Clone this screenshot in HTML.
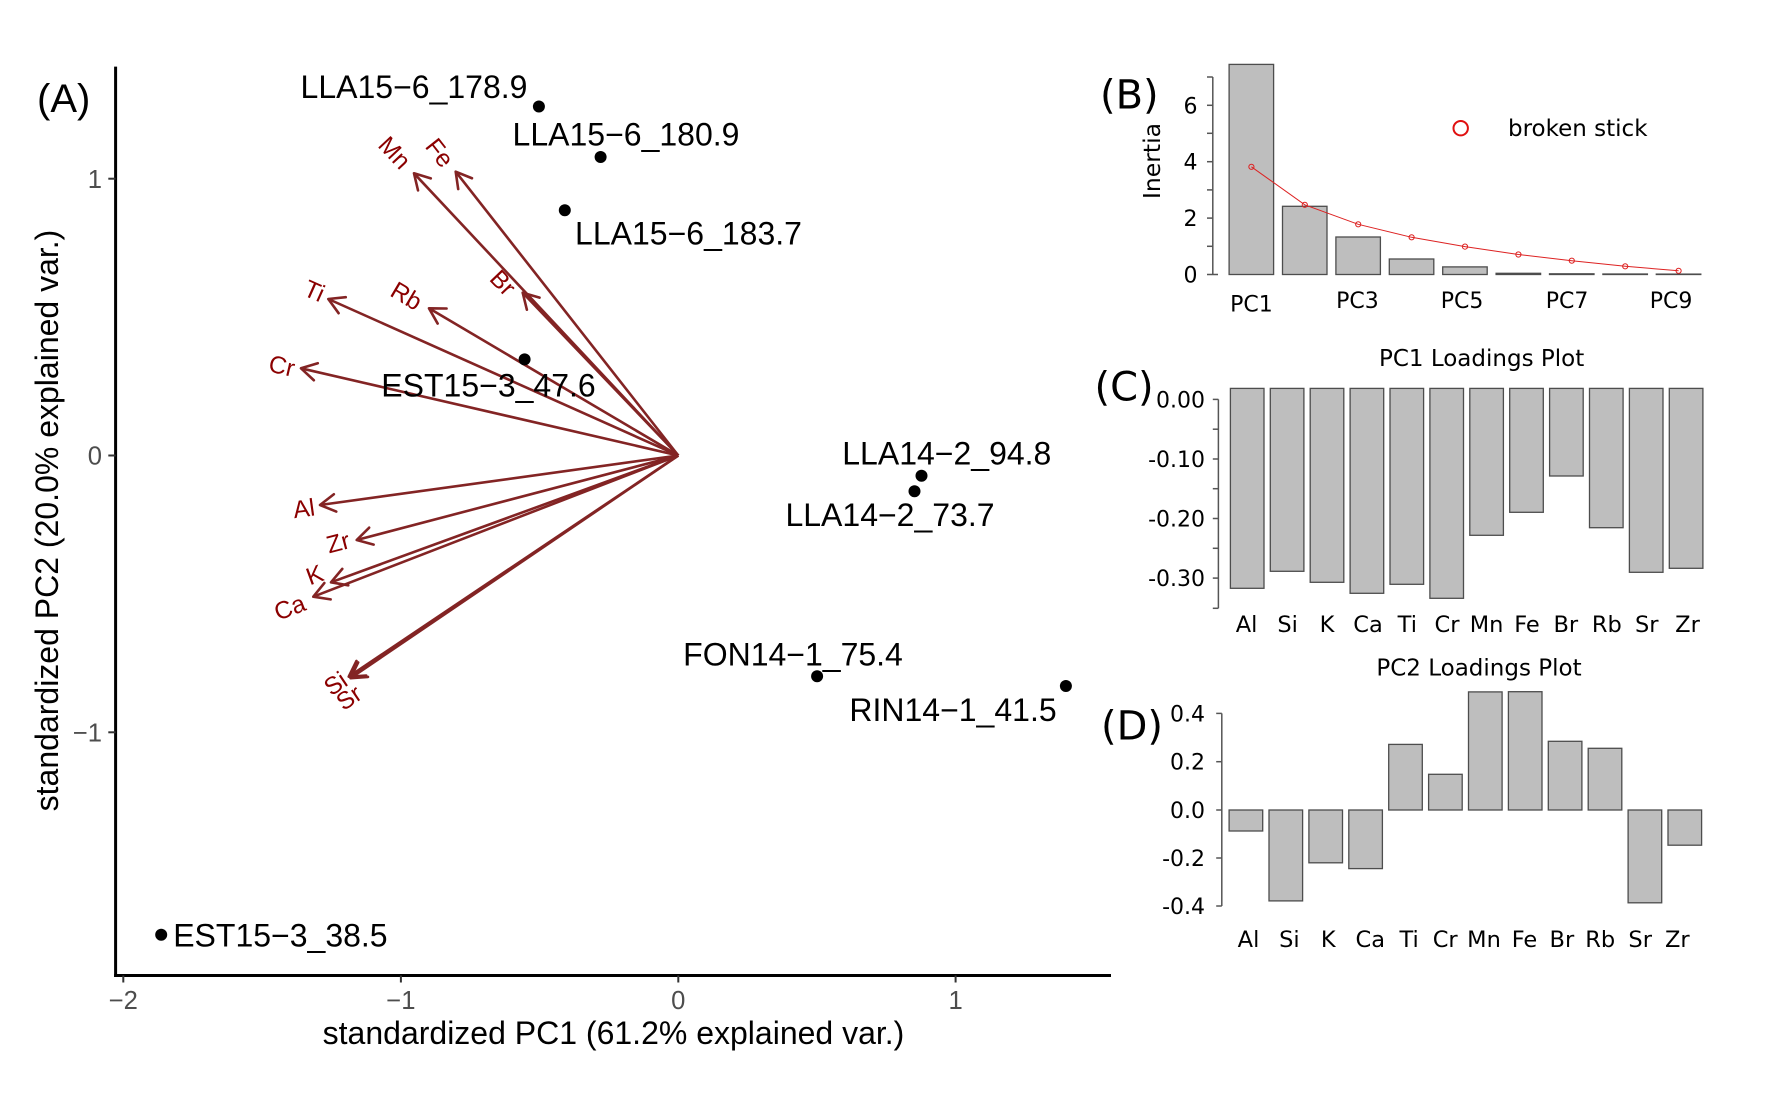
<!DOCTYPE html>
<html><head><meta charset="utf-8"><style>html,body{margin:0;padding:0;background:#fff}svg{display:block}</style></head>
<body>
<svg width="1775" height="1099" viewBox="0 0 1775 1099" xmlns="http://www.w3.org/2000/svg">
<rect width="1775" height="1099" fill="#ffffff"/>
<defs>
<marker id="ah" markerUnits="userSpaceOnUse" markerWidth="40" markerHeight="40" viewBox="-20 -20 40 40" refX="0" refY="0" orient="auto" overflow="visible">
<path d="M-15.2,-8.75 L0,0 L-15.2,8.75" fill="none" stroke="#832424" stroke-width="2.6" stroke-linecap="round" stroke-linejoin="round"/>
</marker>
</defs>

<!-- ================= PANEL A ================= -->
<g font-family="'Liberation Sans', Arial, sans-serif">
<text x="37" y="112" font-size="40" fill="#000">(A)</text>

<!-- axes -->
<line x1="115.6" y1="66.6" x2="115.6" y2="977" stroke="#000" stroke-width="3"/>
<line x1="114.1" y1="975.5" x2="1111" y2="975.5" stroke="#000" stroke-width="3"/>
<g stroke="#333" stroke-width="2">
<line x1="108.3" y1="178.7" x2="115.6" y2="178.7"/>
<line x1="108.3" y1="455.5" x2="115.6" y2="455.5"/>
<line x1="108.3" y1="732.3" x2="115.6" y2="732.3"/>
<line x1="123.3" y1="975.5" x2="123.3" y2="982.5"/>
<line x1="400.9" y1="975.5" x2="400.9" y2="982.5"/>
<line x1="678.3" y1="975.5" x2="678.3" y2="982.5"/>
<line x1="955.6" y1="975.5" x2="955.6" y2="982.5"/>
</g>
<g font-size="25.6" fill="#4d4d4d">
<text x="102" y="187.9" text-anchor="end">1</text>
<text x="102" y="464.7" text-anchor="end">0</text>
<text x="102" y="741.5" text-anchor="end">−1</text>
<text x="123.3" y="1009" text-anchor="middle">−2</text>
<text x="400.9" y="1009" text-anchor="middle">−1</text>
<text x="678.3" y="1009" text-anchor="middle">0</text>
<text x="955.6" y="1009" text-anchor="middle">1</text>
</g>
<text x="613.5" y="1044" font-size="32" text-anchor="middle" fill="#000">standardized PC1 (61.2% explained var.)</text>
<text transform="translate(58,520.5) rotate(-90)" font-size="32" text-anchor="middle" fill="#000">standardized PC2 (20.0% explained var.)</text>

<!-- arrows -->
<g stroke="#832424" stroke-width="2.6" fill="none" marker-end="url(#ah)">
<line x1="678.3" y1="455.5" x2="414" y2="173.3"/>
<line x1="678.3" y1="455.5" x2="455.7" y2="171.7"/>
<line x1="678.3" y1="455.5" x2="522.7" y2="292.7"/>
<line x1="678.3" y1="455.5" x2="429" y2="308.3"/>
<line x1="678.3" y1="455.5" x2="328.3" y2="299"/>
<line x1="678.3" y1="455.5" x2="301" y2="368.3"/>
<line x1="678.3" y1="455.5" x2="320" y2="505"/>
<line x1="678.3" y1="455.5" x2="356.7" y2="540"/>
<line x1="678.3" y1="455.5" x2="331" y2="582.3"/>
<line x1="678.3" y1="455.5" x2="313.3" y2="596.7"/>
<line x1="678.3" y1="455.5" x2="348.7" y2="676.7"/>
<line x1="678.3" y1="455.5" x2="350.5" y2="678.2"/>
</g>

<!-- variable labels -->
<g font-size="24.5" fill="#8b0000" text-anchor="middle" dominant-baseline="central">
<text transform="translate(394,153.3) rotate(46.9)">Mn</text>
<text transform="translate(439,153.3) rotate(51.9)">Fe</text>
<text transform="translate(502.3,283.3) rotate(46.3)">Br</text>
<text transform="translate(406,296.7) rotate(30.6)">Rb</text>
<text transform="translate(314,291.7) rotate(24.1)">Ti</text>
<text transform="translate(281.7,366.7) rotate(13)">Cr</text>
<text transform="translate(304,509.3) rotate(-7.9)">Al</text>
<text transform="translate(338.3,543.3) rotate(-14.7)">Zr</text>
<text transform="translate(315,575.7) rotate(-20.1)">K</text>
<text transform="translate(290,608.3) rotate(-21.1)">Ca</text>
<text transform="translate(336,684.3) rotate(-33.9)">Si</text>
<text transform="translate(349.3,698.3) rotate(-33.9)">Sr</text>
</g>

<!-- sample points -->
<g fill="#000">
<circle cx="538.9" cy="106.5" r="6"/>
<circle cx="600.6" cy="157" r="6"/>
<circle cx="564.8" cy="210.2" r="6"/>
<circle cx="524.6" cy="359.4" r="6"/>
<circle cx="921.5" cy="475.8" r="6"/>
<circle cx="914.5" cy="491.2" r="6"/>
<circle cx="817.1" cy="676.2" r="6"/>
<circle cx="1065.9" cy="686" r="6"/>
<circle cx="161.2" cy="934.8" r="6"/>
</g>
<g font-size="32" fill="#000" text-anchor="middle">
<text x="414" y="98">LLA15−6_178.9</text>
<text x="626" y="145.5">LLA15−6_180.9</text>
<text x="688.5" y="244.4">LLA15−6_183.7</text>
<text x="488.5" y="396.4">EST15−3_47.6</text>
<text x="946.8" y="464.4">LLA14−2_94.8</text>
<text x="890" y="526">LLA14−2_73.7</text>
<text x="793" y="665.5">FON14−1_75.4</text>
<text x="953" y="721">RIN14−1_41.5</text>
<text x="280.4" y="946.5">EST15−3_38.5</text>
</g>
</g>

<!-- ================= RIGHT PANELS ================= -->
<g font-family="'DejaVu Sans', Verdana, sans-serif" fill="#000">
<text x="1100" y="108.5" font-size="40">(B)</text>
<text x="1094.5" y="400.5" font-size="40">(C)</text>
<text x="1101" y="739.5" font-size="40">(D)</text>

<!-- Panel B -->
<line x1="1212.8" y1="77" x2="1212.8" y2="274.5" stroke="#555" stroke-width="1.5"/>
<g stroke="#555" stroke-width="1.5">
<line x1="1207" y1="77" x2="1212.8" y2="77"/>
<line x1="1207" y1="105.3" x2="1212.8" y2="105.3"/>
<line x1="1207" y1="133.3" x2="1212.8" y2="133.3"/>
<line x1="1207" y1="161.7" x2="1212.8" y2="161.7"/>
<line x1="1207" y1="189.9" x2="1212.8" y2="189.9"/>
<line x1="1207" y1="218.1" x2="1212.8" y2="218.1"/>
<line x1="1207" y1="246.3" x2="1212.8" y2="246.3"/>
<line x1="1207" y1="274.5" x2="1218" y2="274.5"/>
</g>
<g font-size="22" text-anchor="middle">
<text x="1190.5" y="113.3">6</text>
<text x="1190.5" y="169.7">4</text>
<text x="1190.5" y="226.1">2</text>
<text x="1190.5" y="282.5">0</text>
</g>
<text transform="translate(1160,161) rotate(-90)" font-size="23.5" text-anchor="middle">Inertia</text>
<g fill="#bebebe" stroke="#4d4d4d" stroke-width="1.3">
<rect x="1229.1" y="64.4" width="44.5" height="210.1"/>
<rect x="1282.5" y="206.3" width="44.5" height="68.2"/>
<rect x="1335.9" y="237" width="44.5" height="37.5"/>
<rect x="1389.3" y="259" width="44.5" height="15.5"/>
<rect x="1442.7" y="266.9" width="44.5" height="7.6"/>
<rect x="1496.1" y="273.3" width="44.5" height="1.2"/>
<rect x="1549.5" y="273.8" width="44.5" height="0.7"/>
<rect x="1602.9" y="274" width="44.5" height="0.5"/>
<rect x="1656.3" y="274.1" width="44.5" height="0.4"/>
</g>
<polyline points="1251.4,166.8 1304.8,204.8 1358.2,224.3 1411.6,237.3 1465,246.6 1518.4,254.5 1571.8,260.7 1625.2,266.3 1678.6,270.8" fill="none" stroke="#d22" stroke-width="1"/>
<g fill="none" stroke="#d22" stroke-width="1">
<circle cx="1251.4" cy="166.8" r="2.6"/>
<circle cx="1304.8" cy="204.8" r="2.6"/>
<circle cx="1358.2" cy="224.3" r="2.6"/>
<circle cx="1411.6" cy="237.3" r="2.6"/>
<circle cx="1465" cy="246.6" r="2.6"/>
<circle cx="1518.4" cy="254.5" r="2.6"/>
<circle cx="1571.8" cy="260.7" r="2.6"/>
<circle cx="1625.2" cy="266.3" r="2.6"/>
<circle cx="1678.6" cy="270.8" r="2.6"/>
</g>
<circle cx="1460.7" cy="128.2" r="7.2" fill="none" stroke="#e01010" stroke-width="2"/>
<text x="1508" y="136" font-size="23">broken stick</text>
<g font-size="22" text-anchor="middle">
<text x="1251.4" y="311.5">PC1</text>
<text x="1357.4" y="308">PC3</text>
<text x="1462" y="308">PC5</text>
<text x="1567" y="308">PC7</text>
<text x="1671" y="308">PC9</text>
</g>

<!-- Panel C -->
<text x="1481.6" y="366" font-size="23" text-anchor="middle">PC1 Loadings Plot</text>
<line x1="1218.4" y1="399.4" x2="1218.4" y2="608.3" stroke="#555" stroke-width="1.5"/>
<g stroke="#555" stroke-width="1.5">
<line x1="1212.8" y1="399.4" x2="1218.4" y2="399.4"/>
<line x1="1212.8" y1="429.2" x2="1218.4" y2="429.2"/>
<line x1="1212.8" y1="459" x2="1218.4" y2="459"/>
<line x1="1212.8" y1="488.7" x2="1218.4" y2="488.7"/>
<line x1="1212.8" y1="518.5" x2="1218.4" y2="518.5"/>
<line x1="1212.8" y1="548.3" x2="1218.4" y2="548.3"/>
<line x1="1212.8" y1="578.1" x2="1218.4" y2="578.1"/>
<line x1="1212.8" y1="608.3" x2="1218.4" y2="608.3"/>
</g>
<g font-size="22" text-anchor="end">
<text x="1205" y="407.4">0.00</text>
<text x="1205" y="467">-0.10</text>
<text x="1205" y="526.5">-0.20</text>
<text x="1205" y="586.1">-0.30</text>
</g>
<g fill="#bebebe" stroke="#4d4d4d" stroke-width="1.3">
<rect x="1230.4" y="388.4" width="33.6" height="199.9"/>
<rect x="1270.3" y="388.4" width="33.6" height="182.9"/>
<rect x="1310.2" y="388.4" width="33.6" height="193.9"/>
<rect x="1350.1" y="388.4" width="33.6" height="204.9"/>
<rect x="1390" y="388.4" width="33.6" height="195.9"/>
<rect x="1429.9" y="388.4" width="33.6" height="209.9"/>
<rect x="1469.8" y="388.4" width="33.6" height="146.9"/>
<rect x="1509.7" y="388.4" width="33.6" height="123.9"/>
<rect x="1549.6" y="388.4" width="33.6" height="87.6"/>
<rect x="1589.5" y="388.4" width="33.6" height="139.3"/>
<rect x="1629.4" y="388.4" width="33.6" height="183.9"/>
<rect x="1669.3" y="388.4" width="33.6" height="179.9"/>
</g>
<g font-size="22.5" text-anchor="middle">
<text x="1246.6" y="632">Al</text>
<text x="1287.6" y="632">Si</text>
<text x="1327" y="632">K</text>
<text x="1368" y="632">Ca</text>
<text x="1407.3" y="632">Ti</text>
<text x="1447" y="632">Cr</text>
<text x="1486.6" y="632">Mn</text>
<text x="1527" y="632">Fe</text>
<text x="1565.8" y="632">Br</text>
<text x="1606.8" y="632">Rb</text>
<text x="1646.8" y="632">Sr</text>
<text x="1687.5" y="632">Zr</text>
</g>

<!-- Panel D -->
<text x="1479" y="675.5" font-size="23" text-anchor="middle">PC2 Loadings Plot</text>
<line x1="1221.8" y1="713.4" x2="1221.8" y2="906" stroke="#555" stroke-width="1.5"/>
<g stroke="#555" stroke-width="1.5">
<line x1="1216.2" y1="713.4" x2="1221.8" y2="713.4"/>
<line x1="1216.2" y1="761.7" x2="1221.8" y2="761.7"/>
<line x1="1216.2" y1="810" x2="1221.8" y2="810"/>
<line x1="1216.2" y1="858" x2="1221.8" y2="858"/>
<line x1="1216.2" y1="906" x2="1221.8" y2="906"/>
</g>
<g font-size="22" text-anchor="end">
<text x="1205" y="721.4">0.4</text>
<text x="1205" y="769.7">0.2</text>
<text x="1205" y="818">0.0</text>
<text x="1205" y="866">-0.2</text>
<text x="1205" y="914">-0.4</text>
</g>
<g fill="#bebebe" stroke="#4d4d4d" stroke-width="1.3">
<rect x="1229.1" y="810" width="33.6" height="21"/>
<rect x="1269" y="810" width="33.6" height="90.9"/>
<rect x="1308.9" y="810" width="33.6" height="52.8"/>
<rect x="1348.8" y="810" width="33.6" height="58.6"/>
<rect x="1388.7" y="744.4" width="33.6" height="65.6"/>
<rect x="1428.6" y="774.3" width="33.6" height="35.7"/>
<rect x="1468.5" y="691.9" width="33.6" height="118.1"/>
<rect x="1508.4" y="691.7" width="33.6" height="118.3"/>
<rect x="1548.3" y="741.3" width="33.6" height="68.7"/>
<rect x="1588.2" y="748.3" width="33.6" height="61.7"/>
<rect x="1628.1" y="810" width="33.6" height="92.8"/>
<rect x="1668" y="810" width="33.6" height="35.2"/>
</g>
<g font-size="22.5" text-anchor="middle">
<text x="1248.5" y="947">Al</text>
<text x="1289.4" y="947">Si</text>
<text x="1328.2" y="947">K</text>
<text x="1370.3" y="947">Ca</text>
<text x="1409.1" y="947">Ti</text>
<text x="1445.2" y="947">Cr</text>
<text x="1484" y="947">Mn</text>
<text x="1524.5" y="947">Fe</text>
<text x="1561.9" y="947">Br</text>
<text x="1600.2" y="947">Rb</text>
<text x="1640.2" y="947">Sr</text>
<text x="1677.3" y="947">Zr</text>
</g>
</g>
</svg>
</body></html>
